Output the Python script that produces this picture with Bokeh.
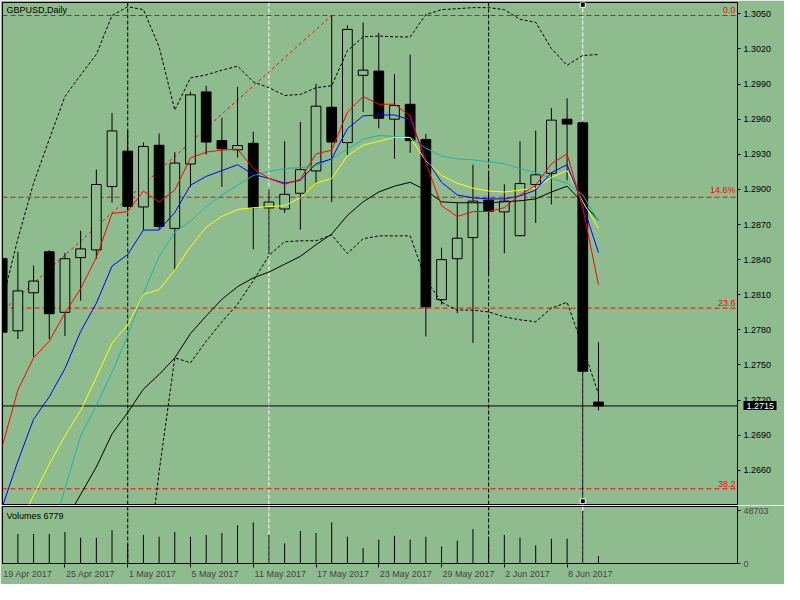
from bokeh.plotting import figure
from bokeh.models import Range1d, FixedTicker, Span, Label, NumeralTickFormatter, LinearAxis
from bokeh.layouts import column
from bokeh.embed import file_html
from bokeh.resources import INLINE
from bokeh.core.properties import value

# ---------------- data ----------------
DATES = ["19 Apr 2017", "20 Apr 2017", "21 Apr 2017", "24 Apr 2017", "25 Apr 2017",
         "26 Apr 2017", "27 Apr 2017", "28 Apr 2017", "1 May 2017", "2 May 2017",
         "3 May 2017", "4 May 2017", "5 May 2017", "8 May 2017", "9 May 2017",
         "10 May 2017", "11 May 2017", "12 May 2017", "15 May 2017", "16 May 2017",
         "17 May 2017", "18 May 2017", "19 May 2017", "22 May 2017", "23 May 2017",
         "24 May 2017", "25 May 2017", "26 May 2017", "29 May 2017", "30 May 2017",
         "31 May 2017", "1 Jun 2017", "2 Jun 2017", "5 Jun 2017", "6 Jun 2017",
         "7 Jun 2017", "8 Jun 2017", "9 Jun 2017", "12 Jun 2017"]

OPEN = [1.2841, 1.27792, 1.28117, 1.28467, 1.2795, 1.28417, 1.28483, 1.29025, 1.29327, 1.2885,
        1.29377, 1.28667, 1.29217, 1.29833, 1.29417, 1.29338, 1.29394, 1.28842, 1.28833, 1.28967,
        1.29158, 1.29702, 1.294, 1.29975, 1.30011, 1.296, 1.29727, 1.29427, 1.28058, 1.28408,
        1.28588, 1.28908, 1.28808, 1.28605, 1.29042, 1.29138, 1.296, 1.29569, 1.27183]
HIGH = [1.2843, 1.28467, 1.2835, 1.2848, 1.28458, 1.28647, 1.29169, 1.29652, 1.2950, 1.29402,
        1.29477, 1.29319, 1.29836, 1.29886, 1.29611, 1.29877, 1.29494, 1.29002, 1.29411, 1.29577,
        1.29902, 1.30486, 1.30402, 1.30427, 1.30338, 1.29986, 1.30152, 1.29472, 1.28502, 1.28883,
        1.29211, 1.29155, 1.29044, 1.29411, 1.29502, 1.29694, 1.29777, 1.2958, 1.27694]
LOW = [1.2772, 1.27722, 1.27569, 1.27722, 1.27748, 1.2805, 1.28405, 1.28888, 1.28819, 1.28652,
       1.2866, 1.28313, 1.29022, 1.29297, 1.29022, 1.29272, 1.28488, 1.28447, 1.288, 1.28655,
       1.29055, 1.28892, 1.29294, 1.29661, 1.29522, 1.29263, 1.29313, 1.27744, 1.28017, 1.27942,
       1.27688, 1.2828, 1.28455, 1.28597, 1.28713, 1.28872, 1.29077, 1.26336, 1.27113]
CLOSE = [1.2778, 1.28133, 1.28217, 1.27938, 1.28408, 1.28492, 1.29042, 1.2950, 1.28855, 1.29367,
         1.28683, 1.29225, 1.29808, 1.29405, 1.29347, 1.29375, 1.28844, 1.28892, 1.28958, 1.29169,
         1.29711, 1.29405, 1.30367, 1.30019, 1.29608, 1.29717, 1.29417, 1.27997, 1.284, 1.28583,
         1.289, 1.28813, 1.289, 1.2905, 1.29125, 1.29592, 1.29558, 1.27447, 1.2715]
VOLUME = [25000, 27400, 27400, 27400, 29200, 23900, 23900, 31000, 18000, 26500,
          24800, 29200, 24800, 26500, 28300, 35400, 38100, 26500, 18600, 30100,
          28300, 38100, 24800, 14200, 22100, 25700, 22100, 24800, 15900, 21200,
          31900, 22100, 26500, 23900, 16800, 23000, 23000, 48703, 6779]

MA_RED = [1.26803, 1.27286, 1.27561, 1.27703, 1.27944, 1.28153, 1.28419, 1.28794, 1.28811, 1.28986,
          1.28894, 1.28994, 1.29269, 1.29319, 1.29336, 1.29344, 1.29178, 1.29094, 1.29044, 1.29086,
          1.29303, 1.29336, 1.29661, 1.29794, 1.29728, 1.29728, 1.29628, 1.29228, 1.28861, 1.28769,
          1.28811, 1.28811, 1.28844, 1.28953, 1.29036, 1.29219, 1.29303, 1.28844, 1.28186]
MA_BLUE = [1.26286, 1.26678, 1.27036, 1.27228, 1.27469, 1.27786, 1.28028, 1.28344, 1.28444, 1.28653,
           1.28653, 1.28803, 1.29036, 1.29111, 1.29161, 1.29211, 1.29128, 1.29094, 1.29053, 1.29078,
           1.29219, 1.29261, 1.29519, 1.29628, 1.29636, 1.29636, 1.29594, 1.29261, 1.29061, 1.28953,
           1.28928, 1.28919, 1.28919, 1.28944, 1.28994, 1.29144, 1.29211, 1.28869, 1.28461]
MA_CYAN = [1.24619, 1.25078, 1.25536, 1.25986, 1.26444, 1.26894, 1.27153, 1.27436, 1.27753, 1.28111,
           1.28428, 1.28636, 1.28728, 1.28853, 1.28953, 1.29036, 1.29119, 1.29153, 1.29178, 1.29186,
           1.29203, 1.29261, 1.29344, 1.29428, 1.29461, 1.29453, 1.29444, 1.29353, 1.29286, 1.29261,
           1.29253, 1.29236, 1.29219, 1.29178, 1.29144, 1.29094, 1.29053, 1.28953, 1.28728]
MA_YELLOW = [1.25853, 1.26119, 1.26386, 1.26653, 1.26894, 1.27111, 1.27394, 1.27686, 1.27844, 1.28103,
             1.28144, 1.28311, 1.28511, 1.28678, 1.28769, 1.28828, 1.28844, 1.28853, 1.28861, 1.28928,
             1.29053, 1.29094, 1.29286, 1.29378, 1.29411, 1.29444, 1.29444, 1.29244, 1.29119, 1.29053,
             1.29011, 1.28986, 1.28978, 1.28994, 1.29011, 1.29103, 1.29161, 1.28894, 1.28669]
MA_BLACK = [1.25228, 1.25461, 1.25694, 1.25928, 1.26161, 1.26394, 1.26628, 1.26911, 1.27094, 1.27294,
            1.27419, 1.27561, 1.27769, 1.27919, 1.28061, 1.28169, 1.28244, 1.28294, 1.28361, 1.28428,
            1.28528, 1.28619, 1.28778, 1.28894, 1.28978, 1.29028, 1.29061, 1.28994, 1.28894, 1.28886,
            1.28886, 1.28886, 1.28894, 1.28903, 1.28919, 1.28978, 1.29028, 1.28886, 1.28736]
BAND_UP = [1.28036, 1.28578, 1.29053, 1.29428, 1.29794, 1.29978, 1.30153, 1.30486, 1.30561, 1.30536,
           1.30219, 1.29678, 1.29953, 1.29978, 1.30019, 1.30053, 1.29919, 1.29869, 1.29803, 1.29811,
           1.29869, 1.29886, 1.30186, 1.30303, 1.30311, 1.30303, 1.30303, 1.30494, 1.30536, 1.30544,
           1.30553, 1.30553, 1.30536, 1.30453, 1.30428, 1.30203, 1.30061, 1.30144, 1.30153]
BAND_DN = [1.2470, 1.2470, 1.2470, 1.2470, 1.2470, 1.2470, 1.2470, 1.2470, 1.2470, 1.25486,
           1.26586, 1.27561, 1.27519, 1.27703, 1.27869, 1.28019, 1.28219, 1.28436, 1.28553, 1.28561,
           1.28561, 1.28611, 1.28453, 1.28578, 1.28603, 1.28603, 1.28603, 1.28228, 1.28036, 1.27969,
           1.27969, 1.27953, 1.27911, 1.27886, 1.27869, 1.27986, 1.28036, 1.27653, 1.27253]

FIB_LEVELS = [1.30486, 1.28933, 1.27986, 1.26442]
FIB_LABELS = ["0.0", "14.6%", "23.6", "38.2"]
TREND_X = [-1, 21]
TREND_Y = [1.27837, 1.30486]

PRICE_TICKS = [1.2660, 1.2690, 1.2720, 1.2750, 1.2780, 1.2810, 1.2840, 1.2870,
               1.2900, 1.2930, 1.2960, 1.2990, 1.3020, 1.3050]
MONTH_LINES = [8, 31]      # black dashed verticals
WHITE_LINES = [17, 37]     # white dashed verticals
SELECTED_LINE = 37
LABEL_EVERY = 4

# ---------------- styling ----------------
BG = "#8FBC8F"
FONT = "Liberation Sans"
FS_PX = 9
FS = "%dpx" % FS_PX
X0, X1 = 0.02, 46.86
Y_BOT, Y_TOP = 1.26308, 1.30597
W = 784
LEFT, RIGHT = 2, 47
FRAME_W = W - LEFT - RIGHT
PX_PER_BAR = FRAME_W / (X1 - X0)

# approximate glyph widths (em) of Liberation Sans, used to left-align date labels
EM = {" ": 0.278, "A": 0.667, "M": 0.833, "J": 0.5, "r": 0.333, "y": 0.5}


def text_px(s):
    return sum(EM.get(ch, 0.556) for ch in s) * FS_PX


n = len(OPEN)
idx = list(range(n))

p = figure(width=W, height=505, x_range=Range1d(X0, X1), y_range=Range1d(Y_BOT, Y_TOP),
           output_backend="svg", toolbar_location=None, x_axis_location=None,
           y_axis_location="right", min_border_left=LEFT, min_border_right=RIGHT,
           min_border_top=2, min_border_bottom=1, background_fill_color=BG,
           border_fill_color=BG, outline_line_color="black", outline_line_width=1)
p.grid.visible = False
ya = p.yaxis[0]
ya.ticker = FixedTicker(ticks=PRICE_TICKS)
ya.formatter = NumeralTickFormatter(format="0.0000")
ya.major_label_text_font = FONT
ya.major_label_text_font_size = FS
ya.major_label_text_color = "black"
ya.major_tick_out = 3
ya.major_tick_in = 0
ya.minor_tick_line_color = None
ya.axis_line_color = "black"
ya.major_tick_line_color = "black"
ya.major_label_standoff = 3

# current price marker on the price scale: a second right axis stacked after the
# first one, whose single thick tick is drawn back over the price scale (black box)
pa = LinearAxis(ticker=FixedTicker(ticks=[CLOSE[-1]]),
                formatter=NumeralTickFormatter(format="0.0000"))
pa.axis_line_color = None
pa.minor_tick_line_color = None
pa.major_tick_line_color = "black"
pa.major_tick_line_width = 9
pa.major_tick_in = 31
pa.major_tick_out = 2
pa.major_label_standoff = -30
pa.major_label_text_color = "white"
pa.major_label_text_font = FONT
pa.major_label_text_font_size = FS
p.add_layout(pa, "right")

# vertical lines / horizontal price line (beneath glyphs)
for xv in MONTH_LINES:
    p.add_layout(Span(location=xv, dimension="height", line_color="black", line_width=1,
                      line_dash="4 2", level="underlay"))
for xv in WHITE_LINES:
    p.add_layout(Span(location=xv, dimension="height", line_color="white", line_width=1,
                      line_dash="4 2", level="underlay"))
for lv in FIB_LEVELS:
    p.add_layout(Span(location=lv, dimension="width", line_color="#FF0000", line_width=1,
                      line_dash="5 3", level="underlay"))
p.add_layout(Span(location=CLOSE[-1], dimension="width", line_color="black", line_width=1,
                  level="underlay"))

# fib trend line
p.line(TREND_X, TREND_Y, line_color="#FF0000", line_width=1, line_dash="3 3")

# candles
p.segment(x0=idx, y0=LOW, x1=idx, y1=HIGH, line_color="black", line_width=1)
tops = [max(o, c) for o, c in zip(OPEN, CLOSE)]
bots = [min(o, c) for o, c in zip(OPEN, CLOSE)]
fills = [BG if c > o else "black" for o, c in zip(OPEN, CLOSE)]
p.vbar(x=idx, width=0.62, top=tops, bottom=bots, fill_color=fills, line_color="black",
       line_width=1)

# indicators
p.line(idx, BAND_UP, line_color="black", line_width=1, line_dash="3 2")
p.line(idx, BAND_DN, line_color="black", line_width=1, line_dash="3 2")
p.line(idx, MA_BLACK, line_color="black", line_width=1)
p.line(idx, MA_CYAN, line_color="#20B2AA", line_width=1)
p.line(idx, MA_YELLOW, line_color="#FFFF00", line_width=1)
p.line(idx, MA_BLUE, line_color="#0000FF", line_width=1)
p.line(idx, MA_RED, line_color="#FF0000", line_width=1)

# selected vertical line markers
p.scatter(x=[SELECTED_LINE, SELECTED_LINE], y=[Y_TOP - 0.0002, LOW[SELECTED_LINE]],
          marker="square", size=5, fill_color="black", line_color="white", line_width=1)

# fib labels
p.text(x=[X1 - 0.12] * len(FIB_LEVELS), y=FIB_LEVELS, text=FIB_LABELS, text_align="right",
       text_baseline="bottom", y_offset=-2, text_color="#FF0000",
       text_font=value(FONT), text_font_size=FS)

p.add_layout(Label(x=X0, y=Y_TOP, x_offset=4, y_offset=-2, text="GBPUSD,Daily",
                   text_baseline="top", text_font=FONT, text_font_size=FS,
                   text_color="black"))

# ---------------- volume panel ----------------
VMAX = max(VOLUME)
VTOP = VMAX * 1.085
q = figure(width=W, height=79, x_range=p.x_range, y_range=Range1d(0, VTOP),
           output_backend="svg", toolbar_location=None, y_axis_location="right",
           x_axis_location="below", min_border_left=LEFT, min_border_right=RIGHT,
           min_border_top=1, min_border_bottom=21, background_fill_color=BG,
           border_fill_color=BG, outline_line_color="black", outline_line_width=1)
q.grid.visible = False
for xv in MONTH_LINES:
    q.add_layout(Span(location=xv, dimension="height", line_color="black", line_width=1,
                      line_dash="4 2", level="underlay"))
for xv in WHITE_LINES:
    q.add_layout(Span(location=xv, dimension="height", line_color="white", line_width=1,
                      line_dash="4 2", level="underlay"))
q.segment(x0=idx, y0=[0] * n, x1=idx, y1=VOLUME, line_color="black", line_width=1)
q.add_layout(Label(x=X0, y=VTOP, x_offset=4, y_offset=-4,
                   text="Volumes %d" % VOLUME[-1], text_baseline="top", text_font=FONT,
                   text_font_size=FS, text_color="black"))

vy = q.yaxis[0]
vy.ticker = FixedTicker(ticks=[0, VMAX])
vy.formatter = NumeralTickFormatter(format="0")
vy.major_label_text_font = FONT
vy.major_label_text_font_size = FS
vy.major_tick_out = 3
vy.major_tick_in = 0
vy.minor_tick_line_color = None
vy.major_label_standoff = 3

# date labels: MT4 writes them starting at the bar they belong to; the small
# tick marks at the labelled bars are drawn as minor ticks
tick_bars = idx[::LABEL_EVERY]
label_pos = [round(i + (text_px(DATES[i]) / 2 + 1) / PX_PER_BAR, 4) for i in tick_bars]
vx = q.xaxis[0]
vx.ticker = FixedTicker(ticks=label_pos, minor_ticks=tick_bars)
vx.major_label_overrides = {pos: DATES[i] for pos, i in zip(label_pos, tick_bars)}
vx.major_label_text_font = FONT
vx.major_label_text_font_size = FS
vx.major_tick_line_color = None
vx.major_tick_out = 4
vx.major_tick_in = 0
vx.minor_tick_line_color = "black"
vx.minor_tick_out = 4
vx.minor_tick_in = 0
vx.axis_line_color = "black"
vx.major_label_standoff = 1

layout = column(p, q, spacing=0)
open("out.html", "w").write(file_html(layout, INLINE))
